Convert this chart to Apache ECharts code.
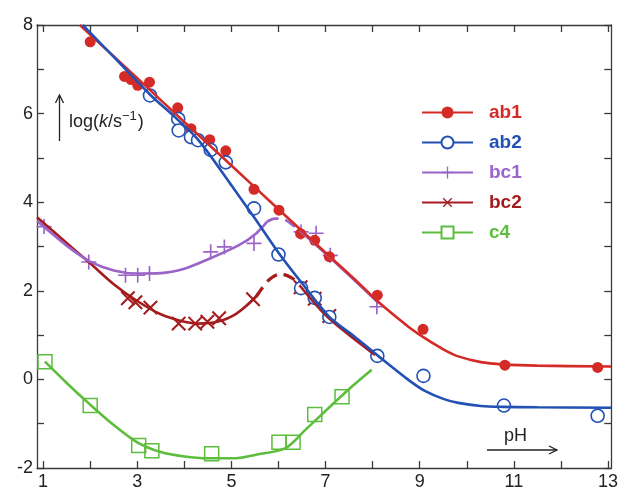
<!DOCTYPE html>
<html>
<head>
<meta charset="utf-8">
<script src="https://cdn.jsdelivr.net/npm/echarts@6/dist/echarts.min.js"></script>
<style>
html,body{margin:0;padding:0;background:#fff;}
#chart{width:621px;height:493px;}
</style>
</head>
<body>
<div id="chart"></div>
<script>
// ---- tick values / labels ----
const xTickValues = [1,2,3,4,5,6,7,8,9,10,11,12,13];
const xLabelValues = [1,3,5,7,9,11,13];
const yLabelValues = [-2,0,2,4,6,8];

// ---- series names ----
const seriesNames = ['ab1','ab2','bc1','bc2','c4'];

// ---- measured points [pH, log k] ----
const ab1Points = [[2.0,7.62],[2.73,6.84],[2.87,6.77],[3.01,6.64],[3.26,6.71],[3.86,6.13],[4.14,5.66],[4.54,5.41],[4.88,5.16],[5.48,4.29],[6.01,3.82],[6.47,3.29],[6.77,3.14],[7.08,2.77],[8.1,1.9],[9.07,1.13],[10.81,0.32],[12.78,0.27]];
const ab2Points = [[3.27,6.41],[3.87,5.88],[3.88,5.62],[4.14,5.47],[4.29,5.40],[4.56,5.18],[4.88,4.90],[5.48,3.86],[6.0,2.82],[6.48,2.06],[6.77,1.84],[7.08,1.41],[8.1,0.53],[9.08,0.08],[10.79,-0.59],[12.78,-0.82]];
const bc1Points = [[1.02,3.45],[1.97,2.65],[2.75,2.35],[3.01,2.35],[3.26,2.39],[4.56,2.88],[4.85,2.99],[5.48,3.07],[6.48,3.33],[6.80,3.30],[7.10,2.80],[8.09,1.64]];
const bc2Points = [[2.80,1.83],[2.96,1.74],[3.28,1.62],[3.88,1.26],[4.23,1.26],[4.49,1.30],[4.74,1.38],[5.46,1.81],[6.47,2.08],[6.77,1.82],[7.08,1.43]];
const c4Points = [[1.04,0.40],[2.0,-0.59],[3.03,-1.49],[3.31,-1.61],[4.58,-1.68],[6.01,-1.42],[6.31,-1.42],[6.77,-0.79],[7.35,-0.39]];

// ---- fitted curves ----
const ab1Fit = [[1.78,8.0],[3,6.80],[4,5.81],[5,4.83],[6,3.84],[7,2.86],[7.7,2.18],[8.13,1.74],[8.76,1.19],[9.11,0.93],[9.5,0.68],[9.82,0.52],[10.3,0.39],[10.77,0.34],[11.5,0.31],[13.07,0.29]];
const ab2Fit = [[1.84,8.0],[2.5,7.28],[3.28,6.42],[3.8,5.92],[4.3,5.4],[5.0,4.38],[5.5,3.63],[6.0,2.86],[6.5,2.17],[7.08,1.41],[7.6,0.98],[8.13,0.52],[8.76,-0.01],[9.11,-0.26],[9.5,-0.44],[9.82,-0.53],[10.3,-0.6],[10.77,-0.62],[11.5,-0.63],[13.07,-0.64]];
const bc1Fit = [[0.87,3.58],[1.5,3.02],[2,2.66],[2.5,2.46],[3,2.39],[3.5,2.40],[4,2.5],[4.46,2.69],[5.16,3.03],[5.52,3.29],[5.76,3.56]];
const bc1FitDash = [[5.76,3.56],[5.92,3.63],[6.1,3.62],[6.28,3.5],[6.45,3.36]];
const bc1FitTail = [[6.45,3.36],[7,2.84],[7.5,2.35],[8.13,1.72]];
const bc2Fit = [[0.87,3.66],[1.5,3.08],[2,2.62],[2.5,2.15],[3,1.77],[3.5,1.47],[4,1.3],[4.3,1.26],[4.7,1.3],[5.1,1.48],[5.52,1.86]];
const bc2FitDash = [[5.52,1.86],[5.8,2.25],[6.05,2.38],[6.3,2.28],[6.45,2.12]];
const bc2FitTail = [[6.45,2.12],[7,1.45],[7.5,1.0],[8.05,0.55]];
const c4Fit = [[1.04,0.40],[1.5,-0.08],[2.0,-0.57],[2.5,-1.03],[3.0,-1.42],[3.5,-1.64],[4.0,-1.74],[4.5,-1.78],[5.09,-1.78],[5.52,-1.70],[6.15,-1.55],[6.57,-1.14],[7.07,-0.64],[7.56,-0.16],[7.98,0.22]];

// ---- styling ----
const colors = {ab1:'#d42b27', ab2:'#2250b4', bc1:'#9b64c8', bc2:'#a51c1e', c4:'#5dbd3c'};
const plusPath = 'path://M0,8.9 L20,8.9 L20,11.1 L0,11.1 Z M8.9,0 L11.1,0 L11.1,20 L8.9,20 Z';
const FONT = 'Liberation Sans, Arial, sans-serif';
const LW = 2.6;

function fitSeries(name, data, color, symbol, opts) {
  return Object.assign({
    type:'line', name:name, data:data, smooth:0.3, showSymbol:false,
    symbol:symbol, symbolSize:12,
    lineStyle:{color:color, width:LW},
    itemStyle:{color:color},
    emphasis:{disabled:true}, animation:false, silent:true
  }, opts||{});
}
function pointSeries(name, data, symbol, size, itemStyle, opts) {
  return Object.assign({
    type:'scatter', name:name, data:data, symbol:symbol, symbolSize:size,
    itemStyle:Object.assign({opacity:1}, itemStyle),
    emphasis:{disabled:true}, silent:true, animation:false
  }, opts||{});
}

const series = [
  fitSeries('c4', c4Fit, colors.c4, 'emptyRect'),
  pointSeries('c4', c4Points, 'rect', 14, {color:'rgba(255,255,255,0)', borderColor:colors.c4, borderWidth:1.5}),

  fitSeries('bc2', bc2Fit, colors.bc2, plusPath, {symbolRotate:45}),
  fitSeries('bc2-dash', bc2FitDash, colors.bc2, 'none', {lineStyle:{color:colors.bc2, width:LW+0.6, type:[12,7]}}),
  fitSeries('bc2-tail', bc2FitTail, colors.bc2, 'none'),
  pointSeries('bc2', bc2Points, plusPath, 19, {color:colors.bc2}, {symbolRotate:45, symbolKeepAspect:true}),

  fitSeries('bc1', bc1Fit, colors.bc1, plusPath),
  fitSeries('bc1-dash', bc1FitDash, colors.bc1, 'none', {lineStyle:{color:colors.bc1, width:LW, type:[12,7]}}),
  fitSeries('bc1-tail', bc1FitTail, colors.bc1, 'none'),
  pointSeries('bc1', bc1Points, plusPath, 15, {color:colors.bc1}, {symbolKeepAspect:true}),

  fitSeries('ab1', ab1Fit, colors.ab1, 'circle'),
  pointSeries('ab1', ab1Points, 'circle', 11, {color:colors.ab1}),

  fitSeries('ab2', ab2Fit, colors.ab2, 'emptyCircle'),
  pointSeries('ab2', ab2Points, 'circle', 13, {color:'#fff', borderColor:colors.ab2, borderWidth:1.6})
];

const axisLineStyle = {color:'#3a3a3a', width:1.3};

const option = {
  animation:false,
  backgroundColor:'#fff',
  grid:{left:37, right:8, top:25, bottom:25, containLabel:false},
  xAxis:[
    {type:'value', min:0.87, max:13.07, position:'bottom',
     axisLine:{show:true, onZero:false, lineStyle:axisLineStyle},
     axisTick:{show:true, inside:true, length:7, lineStyle:axisLineStyle, customValues:xTickValues},
     axisLabel:{show:true, customValues:xLabelValues, fontSize:18, color:'#222', fontFamily:FONT, margin:5},
     splitLine:{show:false}},
    {type:'value', min:0.87, max:13.07, position:'top',
     axisLine:{show:true, onZero:false, lineStyle:axisLineStyle},
     axisTick:{show:true, inside:true, length:7, lineStyle:axisLineStyle, customValues:xTickValues},
     axisLabel:{show:false}, splitLine:{show:false}}
  ],
  yAxis:[
    {type:'value', min:-2, max:8, interval:1, position:'left',
     axisLine:{show:true, onZero:false, lineStyle:axisLineStyle},
     axisTick:{show:true, inside:true, length:7, lineStyle:axisLineStyle},
     axisLabel:{show:true, customValues:yLabelValues, fontSize:18, color:'#222', fontFamily:FONT, margin:4},
     splitLine:{show:false}},
    {type:'value', min:-2, max:8, interval:1, position:'right',
     axisLine:{show:true, onZero:false, lineStyle:axisLineStyle},
     axisTick:{show:true, inside:true, length:7, lineStyle:axisLineStyle},
     axisLabel:{show:false}, splitLine:{show:false}}
  ],
  legend:{
    orient:'vertical', left:421, top:103, padding:0,
    itemWidth:51, itemHeight:15, itemGap:11,
    selectedMode:false,
    textStyle:{fontSize:19, fontWeight:'bold', fontFamily:FONT, padding:[0,0,0,11]},
    data: seriesNames.map(n => ({name:n, textStyle:{color:colors[n]}}))
  },
  graphic:[
    {type:'line', shape:{x1:59.5, y1:141, x2:59.5, y2:96}, style:{stroke:'#222', lineWidth:1.3}},
    {type:'polyline', shape:{points:[[55.5,103],[59.5,95],[63.5,103]]}, style:{stroke:'#222', fill:null, lineWidth:1.3}},
    {type:'text', left:69, top:110, style:{
      text:'{n|log(}{i|k}{n|/s}{s|−1}{n|)}',
      rich:{
        n:{fontSize:18, fontFamily:FONT, fill:'#222', verticalAlign:'bottom'},
        i:{fontSize:18, fontFamily:FONT, fontStyle:'italic', fill:'#222', verticalAlign:'bottom'},
        s:{fontSize:13, fontFamily:FONT, fill:'#222', verticalAlign:'top', padding:[0,1,8,0]}
      }}},
    {type:'text', left:504, top:427, style:{text:'pH', fontSize:18, fontFamily:FONT, fill:'#222'}},
    {type:'line', shape:{x1:487, y1:450, x2:557, y2:450}, style:{stroke:'#222', lineWidth:1.3}},
    {type:'polyline', shape:{points:[[549,446],[557,450],[549,454]]}, style:{stroke:'#222', fill:null, lineWidth:1.3}}
  ],
  series: series
};

const chart = echarts.init(document.getElementById('chart'), null, {renderer:'canvas'});
chart.setOption(option);
</script>
</body>
</html>
